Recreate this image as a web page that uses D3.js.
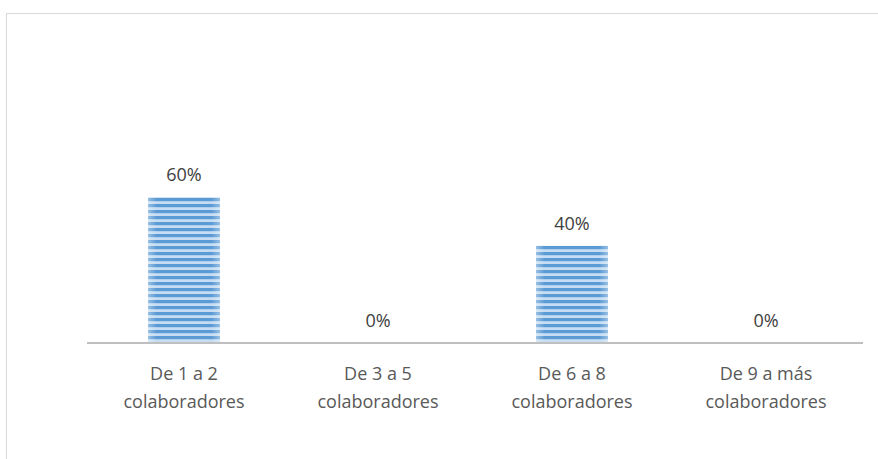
<!DOCTYPE html>
<html><head><meta charset="utf-8">
<script src="https://cdn.jsdelivr.net/npm/d3@7"></script>
<style>html,body{margin:0;padding:0;background:#fff;}svg{display:block;}</style>
</head><body>
<svg id="c" width="878" height="459"></svg>
<script>
const categories = [["De 1 a 2","colaboradores"],["De 3 a 5","colaboradores"],["De 6 a 8","colaboradores"],["De 9 a más","colaboradores"]];
const values = [0.60, 0.00, 0.40, 0.00];
const labels = ["60%","0%","40%","0%"];

const svg = d3.select("#c");
const defs = svg.append("defs");
const pat = defs.append("pattern").attr("id","stripes").attr("patternUnits","userSpaceOnUse")
  .attr("width",10).attr("height",6);
pat.append("rect").attr("width",10).attr("height",6).attr("fill","#c5dcf2");
pat.append("rect").attr("y",0).attr("width",10).attr("height",3.2).attr("fill","#5b9bd5");
const grad = defs.append("linearGradient").attr("id","edge").attr("x1","0").attr("x2","1");
grad.append("stop").attr("offset","0").attr("stop-color","#fff").attr("stop-opacity",0.35);
grad.append("stop").attr("offset","0.12").attr("stop-color","#fff").attr("stop-opacity",0);
grad.append("stop").attr("offset","0.88").attr("stop-color","#fff").attr("stop-opacity",0);
grad.append("stop").attr("offset","1").attr("stop-color","#fff").attr("stop-opacity",0.35);

svg.append("rect").attr("x",6.5).attr("y",13.5).attr("width",900).attr("height",500)
  .attr("fill","none").attr("stroke","#d9d9d9").attr("stroke-width",1);

const x = d3.scaleBand().domain(d3.range(categories.length)).range([87,863]).paddingInner(0.63).paddingOuter(0.315);
const y = d3.scaleLinear().domain([0,1]).range([343,100]);

const g = svg.append("g");
g.selectAll("rect.bar").data(values).join("rect").attr("class","bar")
  .attr("x",(d,i)=>x(i)).attr("width",x.bandwidth())
  .attr("y",d=>y(d)).attr("height",d=>y(0)-y(d)).attr("fill","url(#stripes)");
g.selectAll("rect.edge").data(values).join("rect").attr("class","edge")
  .attr("x",(d,i)=>x(i)).attr("width",x.bandwidth())
  .attr("y",d=>y(d)).attr("height",d=>y(0)-y(d)).attr("fill","url(#edge)");

svg.append("line").attr("x1",87).attr("x2",863).attr("y1",343).attr("y2",343)
  .attr("stroke","#bfbfbf").attr("stroke-width",2.2);

const font = "'Open Sans', 'Liberation Sans', sans-serif";
svg.selectAll("text.val").data(values).join("text").attr("class","val")
  .attr("x",(d,i)=>x(i)+x.bandwidth()/2).attr("y",d=>y(d)-16)
  .attr("text-anchor","middle").attr("font-family",font).attr("font-size",18)
  .attr("fill","#404040").text((d,i)=>labels[i]);

const xa = svg.append("g");
categories.forEach((c,i)=>{
  const t = xa.append("text").attr("x",x(i)+x.bandwidth()/2).attr("y",380)
    .attr("text-anchor","middle").attr("font-family",font).attr("font-size",18).attr("fill","#595959");
  c.forEach((line,j)=>t.append("tspan").attr("x",x(i)+x.bandwidth()/2).attr("dy",j===0?0:28).text(line));
});
</script>
</body></html>
